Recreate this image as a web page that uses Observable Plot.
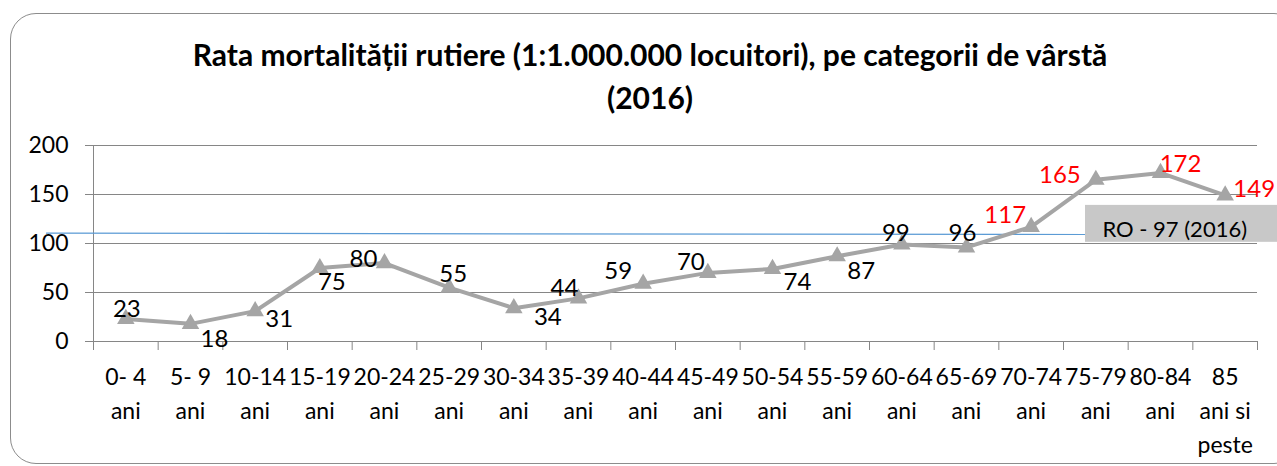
<!DOCTYPE html>
<html><head><meta charset="utf-8">
<script src="https://cdn.jsdelivr.net/npm/d3@7"></script>
<script src="https://cdn.jsdelivr.net/npm/@observablehq/plot@0.6"></script>
<style>
html,body{margin:0;padding:0;width:1277px;height:466px;overflow:hidden;background:#fff;}
#frame{position:absolute;left:10px;top:13px;width:1290px;height:451px;border:1.5px solid #8c8c8c;border-radius:26px;box-sizing:border-box;}
#title{position:absolute;left:10px;top:33px;width:1280px;text-align:center;font-family:Lato,sans-serif;font-weight:bold;font-size:30px;line-height:43px;color:#000;}
#chart{position:absolute;left:0;top:120px;}
</style></head><body>
<div id="frame"></div>
<div id="title">Rata mortalității rutiere (1:1.000.000 locuitori), pe categorii de vârstă<br>(2016)</div>
<div id="chart"></div>
<script>
const categories = ["0- 4\nani","5- 9\nani","10-14\nani","15-19\nani","20-24\nani","25-29\nani","30-34\nani","35-39\nani","40-44\nani","45-49\nani","50-54\nani","55-59\nani","60-64\nani","65-69\nani","70-74\nani","75-79\nani","80-84\nani","85\nani si\npeste"];
const values = [23,18,31,75,80,55,34,44,59,70,74,87,99,96,117,165,172,149];
const yTicks = [0,50,100,150,200];
// label placement relative to each point (dx, dy) as in the reference
const labelOffsets = [[1,-10],[24,15],[24,8],[12,14],[-21,-4],[4,-13],[34,9],[-14,-10],[-25,-12],[-17,-11],[25,13],[24,15],[-6,-11],[-4,-14],[-26,-12],[-36,-4],[20,-9],[29,-6]];
// reference line and its label box (data units)
const refLine = [{x:-1.227,y:110.5},{x:14.84,y:109.2}];
const refBox = [{x1:14.84,x2:18.2,y1:101.2,y2:138.9,tx:16.22,ty:113.4,label:"RO - 97 (2016)"}];

const data = values.map((v,i)=>({i, v, cat:categories[i]}));
const boundaries = d3.range(categories.length+1).map(k=>k-0.5);

const labelMarks = data.map((d,k)=>Plot.text([d],{x:"i",y:"v",text:e=>String(e.v),dx:labelOffsets[k][0],dy:labelOffsets[k][1],fill:d.v>100?"#ff0000":"#000000",fontSize:24}));

const chart = Plot.plot({
  width:1277, height:346,
  marginLeft:93, marginRight:20, marginTop:25, marginBottom:125,
  x:{domain:[-0.5,categories.length-0.5], axis:null},
  y:{domain:[0,200], axis:null},
  style:{fontFamily:"Lato, sans-serif", background:"transparent", overflow:"visible", color:"#000"},
  marks:[
    Plot.gridY(yTicks,{stroke:"#868686",strokeOpacity:1,strokeWidth:1}),
    Plot.axisY(yTicks,{tickSize:8,tickPadding:17,fontSize:23,stroke:"#868686",fill:"#000"}),
    Plot.ruleX([-0.5],{y1:0,y2:200,stroke:"#868686"}),
    Plot.ruleY([0],{stroke:"#868686"}),
    Plot.axisX({ticks:boundaries,tickSize:9,tickFormat:()=>"",stroke:"#868686"}),
    Plot.text(data,{x:"i",y:0,text:"cat",dy:20,lineAnchor:"top",lineHeight:1.46,fontSize:23,fill:"#000"}),
    Plot.line(refLine,{x:"x",y:"y",stroke:"#5b9bd5",strokeWidth:1.2}),
    Plot.rect(refBox,{x1:"x1",x2:"x2",y1:"y1",y2:"y2",fill:"#c8c8c8"}),
    Plot.text(refBox,{x:"tx",y:"ty",text:"label",fontSize:22,fill:"#000"}),
    Plot.line(data,{x:"i",y:"v",stroke:"#a5a5a5",strokeWidth:4}),
    Plot.dot(data,{x:"i",y:"v",symbol:"triangle",r:6.5,fill:"#a5a5a5",stroke:"none"}),
    ...labelMarks
  ]
});
document.getElementById("chart").appendChild(chart);
</script>
</body></html>
